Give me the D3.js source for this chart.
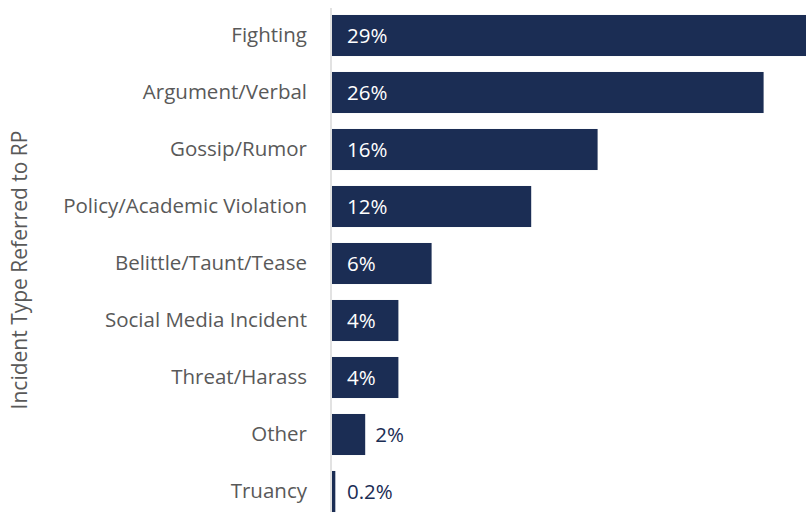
<!DOCTYPE html>
<html>
<head>
<meta charset="utf-8">
<script src="https://cdn.jsdelivr.net/npm/d3@7"></script>
<style>
  html, body { margin: 0; padding: 0; background: #fff; }
  svg { display: block; font-family: "Open Sans", "Noto Sans", sans-serif; }
</style>
</head>
<body>
<svg id="chart" width="806" height="514"></svg>
<script>
// Incident types referred to RP, share of all referrals (%)
const categories = [
  "Fighting", "Argument/Verbal", "Gossip/Rumor", "Policy/Academic Violation",
  "Belittle/Taunt/Tease", "Social Media Incident", "Threat/Harass", "Other", "Truancy"
];
const values = [29, 26, 16, 12, 6, 4, 4, 2, 0.2];
const valueLabels = ["29%", "26%", "16%", "12%", "6%", "4%", "4%", "2%", "0.2%"];
const axisTitle = "Incident Type Referred to RP";

const svg = d3.select("#chart");
const barColor = "#1b2d54";
const textGray = "#595959";
const fontSize = "20.5px";

const x = d3.scaleLinear().domain([0, 30]).range([332, 830]);
const y = d3.scaleBand().domain(categories).range([7, 520]).paddingInner(0.28).paddingOuter(0.14);

const data = categories.map((c, i) => ({ cat: c, val: values[i], label: valueLabels[i] }));

// bars
svg.append("g").selectAll("rect").data(data).join("rect")
  .attr("x", x(0))
  .attr("y", d => y(d.cat))
  .attr("width", d => x(d.val) - x(0))
  .attr("height", y.bandwidth())
  .attr("fill", barColor);

// category axis
const yAxis = d3.axisLeft(y).tickSize(0).tickPadding(24);
const gy = svg.append("g").attr("transform", `translate(${x(0) - 1},0)`).call(yAxis);
gy.select(".domain").remove();
gy.selectAll("text")
  .attr("fill", textGray)
  .style("font-size", fontSize)
  .style("font-family", "\"Open Sans\", \"Noto Sans\", sans-serif");

svg.append("line")
  .attr("x1", x(0) - 1).attr("x2", x(0) - 1)
  .attr("y1", 8).attr("y2", 512)
  .attr("stroke", "#d9d9d9").attr("stroke-width", 1.5);

// value labels: inside the bar when it fits, otherwise just past its end
const insideX = x(0) + 15;
svg.append("g").selectAll("text").data(data).join("text")
  .attr("x", d => (x(d.val) - x(0) > 60) ? insideX : Math.max(insideX, x(d.val) + 10))
  .attr("y", d => y(d.cat) + y.bandwidth() / 2)
  .attr("dy", "0.36em")
  .attr("fill", d => (x(d.val) - x(0) > 60) ? "#ffffff" : barColor)
  .style("font-size", fontSize)
  .text(d => d.label);

// axis title
svg.append("text")
  .attr("transform", `translate(27,270) rotate(-90)`)
  .attr("text-anchor", "middle")
  .attr("fill", textGray)
  .style("font-size", "21px")
  .text(axisTitle);
</script>
</body>
</html>
